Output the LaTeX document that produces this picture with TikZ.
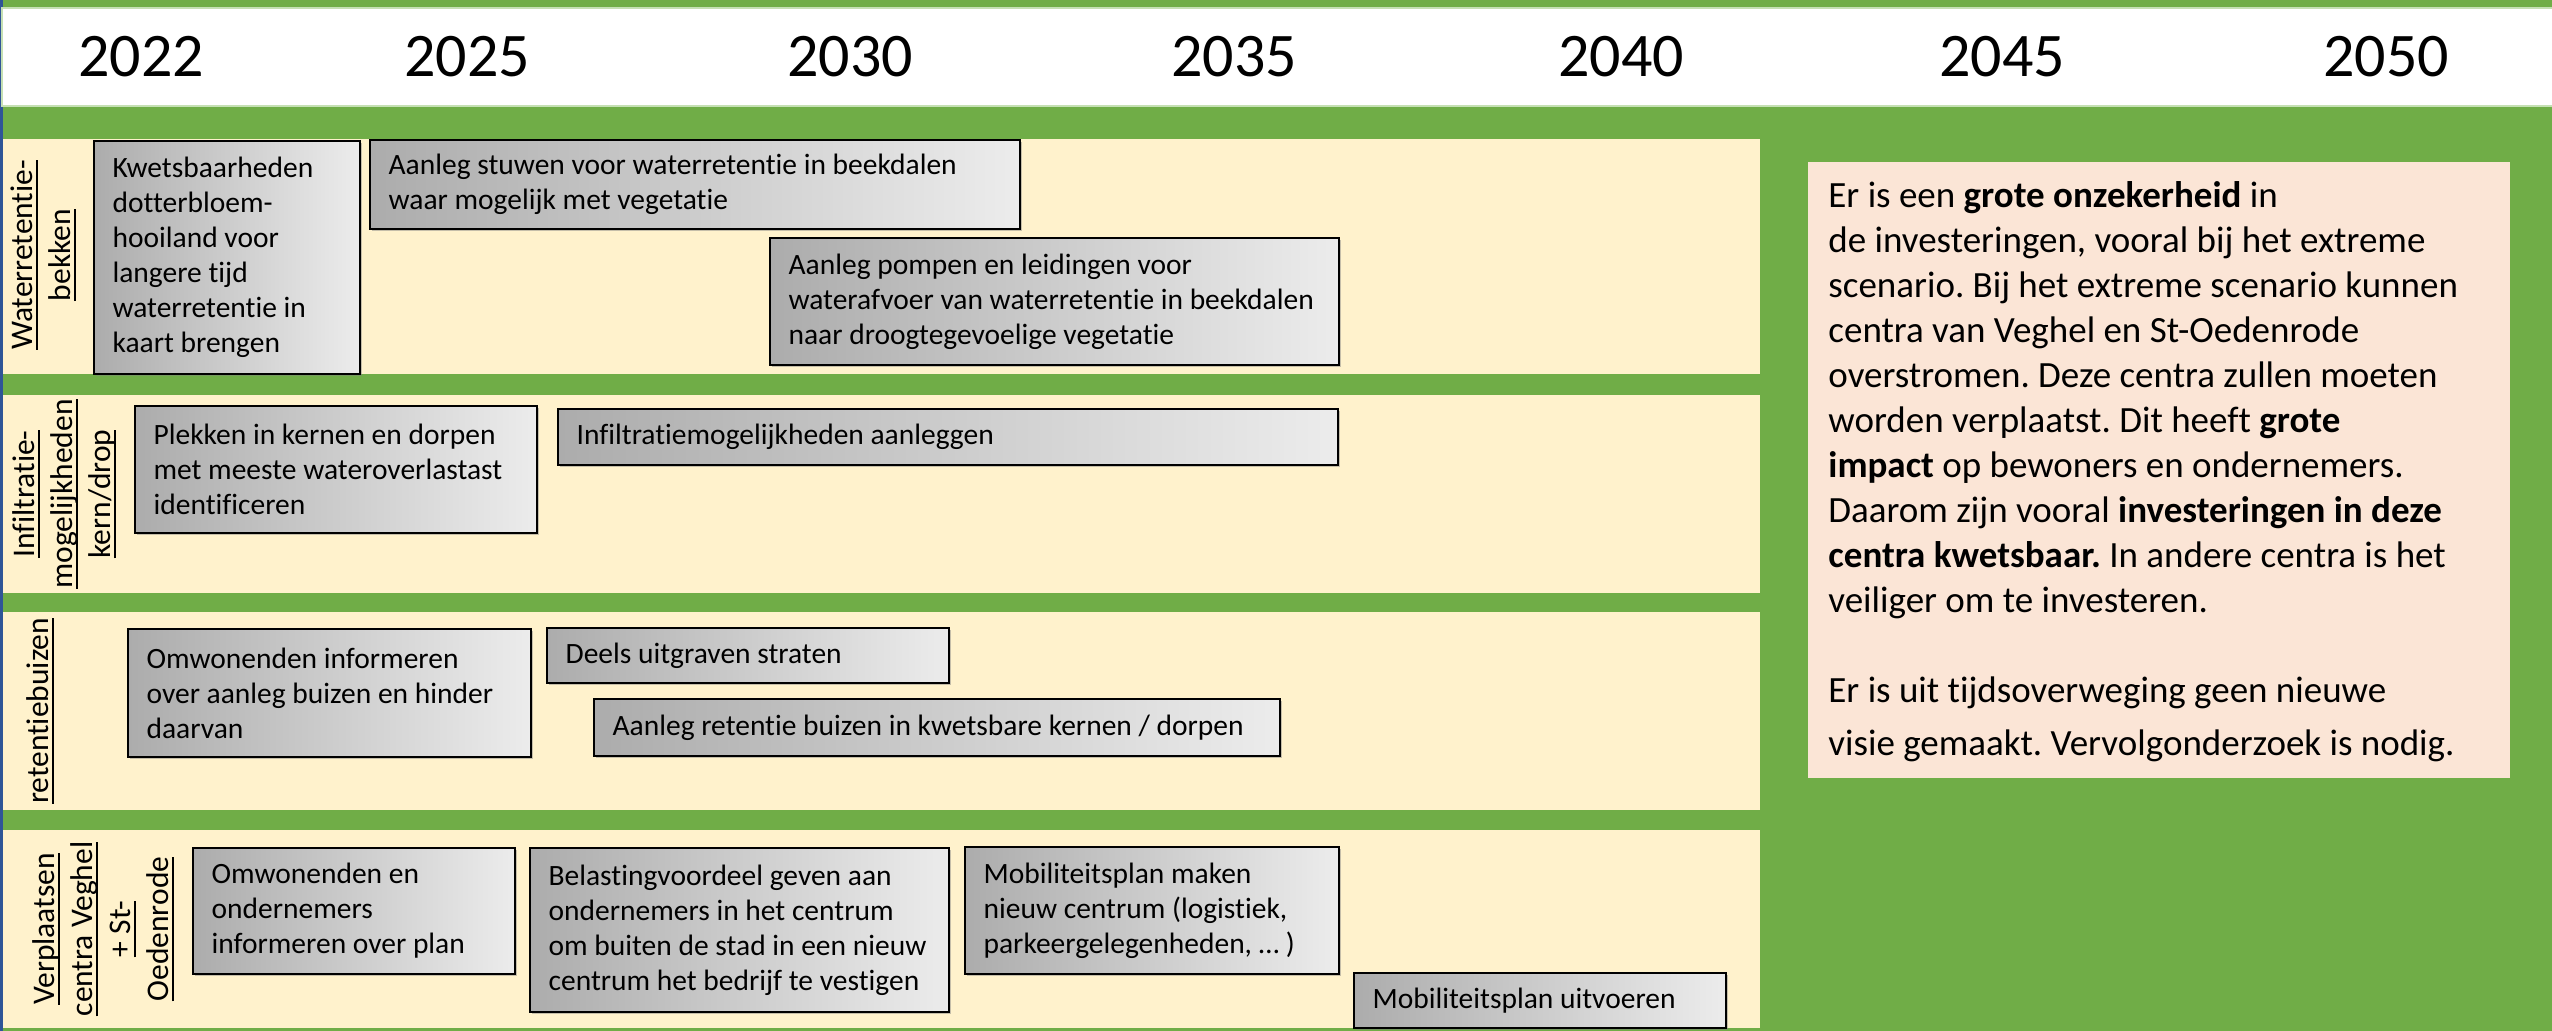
\documentclass[tikz,border=0pt]{standalone}
\usepackage{fontspec}
\setmainfont{Carlito}[Ligatures={NoCommon}]
\usetikzlibrary{shadows}
\frenchspacing
\definecolor{bggreen}{RGB}{112,173,71}
\definecolor{rowyellow}{RGB}{255,242,204}
\definecolor{notebg}{RGB}{251,229,214}
\definecolor{edgeblue}{RGB}{47,85,151}
\definecolor{hdredge}{RGB}{197,224,180}
\definecolor{boxdark}{RGB}{172,172,172}
\definecolor{boxlight}{RGB}{236,236,236}
\tikzset{
  actbox/.style={draw=black, line width=0.8pt, left color=boxdark, right color=boxlight, inner sep=0pt,
    drop shadow={shadow xshift=0.8pt, shadow yshift=-0.8pt, opacity=0.45}},
  acttext/.style={anchor=west, align=left, inner sep=0pt, font=\fontsize{14.75}{17.5}\selectfont},
  rowlabel/.style={rotate=90, align=center, inner sep=0pt, font=\fontsize{15.75}{19}\selectfont},
  yearlabel/.style={font=\fontsize{31}{36}\selectfont, inner sep=0pt},
  rowband/.style={fill=rowyellow},
}
\newcommand\lbline[1]{\setbox0\hbox{#1}\rlap{\rule[-2.7pt]{\wd0}{0.9pt}}\box0}
\newcommand\mkbox[6]{%
  \pgfmathsetmacro\bxw{(#4-#2)/2}%
  \pgfmathsetmacro\bxh{(#5-#3)/2}%
  \node[actbox, minimum width=\bxw pt, minimum height=\bxh pt] (#1) at ({(#2+#4)/2},{(#3+#5)/2}) {};
  \node[acttext] (#1t) at ([xshift=9.5pt]#1.west) {#6};}
\begin{document}
\begin{tikzpicture}[x=0.5pt,y=-0.5pt]
\useasboundingbox (0,0) rectangle (2552,1031);
\fill[bggreen] (0,0) rectangle (2552,1031);
\fill[edgeblue] (0,0) rectangle (2.5,1031);
\filldraw[fill=white, draw=hdredge, line width=1pt] (2,8) rectangle (2560,106);
% years
\node[yearlabel] (y2022) at (141,57) {2022};
\node[yearlabel] (y2025) at (467,57) {2025};
\node[yearlabel] (y2030) at (850,57) {2030};
\node[yearlabel] (y2035) at (1234,57) {2035};
\node[yearlabel] (y2040) at (1621,57) {2040};
\node[yearlabel] (y2045) at (2002,57) {2045};
\node[yearlabel] (y2050) at (2386,57) {2050};
% row bands
\fill[rowband] (3,139) rectangle (1760,374);
\fill[rowband] (3,395) rectangle (1760,593);
\fill[rowband] (3,612) rectangle (1760,810);
\fill[rowband] (3,830) rectangle (1760,1028);
% row labels
\node[rowlabel] (L1) at (43,255) {\lbline{Waterretentie-}\\\lbline{bekken}};
\node[rowlabel] (L2) at (64,494) {\lbline{Infiltratie-}\\\lbline{mogelijkheden}\\\lbline{kern/drop}};
\node[rowlabel] (L3) at (40,711) {\lbline{retentiebuizen}};
\node[rowlabel] (L4) at (103,929) {\lbline{Verplaatsen}\\\lbline{centra Veghel}\\\lbline{+ St-}\\\lbline{Oedenrode}};
% row 1
\mkbox{A1}{94}{141}{360}{374}{Kwetsbaarheden\\dotterbloem-\\hooiland voor\\langere tijd\\waterretentie in\\kaart brengen}
\mkbox{A2}{370}{140}{1020}{229}{Aanleg stuwen voor waterretentie in beekdalen\\waar mogelijk met vegetatie}
\mkbox{A3}{770}{238}{1339}{365}{Aanleg pompen en leidingen voor\\waterafvoer van waterretentie in beekdalen\\naar droogtegevoelige vegetatie}
% row 2
\mkbox{B1}{135}{406}{537}{533}{Plekken in kernen en dorpen\\met meeste wateroverlastast\\identificeren}
\mkbox{B2}{558}{409}{1338}{465}{Infiltratiemogelijkheden aanleggen}
% row 3
\mkbox{C1}{128}{629}{531}{757}{Omwonenden informeren\\over aanleg buizen en hinder\\daarvan}
\mkbox{C2}{547}{628}{949}{683}{Deels uitgraven straten}
\mkbox{C3}{594}{699}{1280}{756}{Aanleg retentie buizen in kwetsbare kernen / dorpen}
% row 4
\mkbox{D1}{193}{848}{515}{974}{Omwonenden en\\ondernemers\\informeren over plan}
\mkbox{D2}{530}{848}{949}{1012}{Belastingvoordeel geven aan\\ondernemers in het centrum\\om buiten de stad in een nieuw\\centrum het bedrijf te vestigen}
\mkbox{D3}{965}{847}{1339}{974}{Mobiliteitsplan maken\\nieuw centrum (logistiek,\\parkeergelegenheden, … )}
\mkbox{D4}{1354}{973}{1726}{1028}{Mobiliteitsplan uitvoeren}
% note
\node[fill=notebg, minimum width=351pt, minimum height=308pt, anchor=north west, inner sep=0pt] (note) at (1808,162) {};
\node[anchor=north west, align=left, inner sep=0pt, font=\fontsize{18.5}{22.5}\selectfont] (notetext) at (1828,181) {Er is een \textbf{grote onzekerheid} in\\
de investeringen, vooral bij het extreme\\
scenario. Bij het extreme scenario kunnen\\
centra van Veghel en St-Oedenrode\\
overstromen. Deze centra zullen moeten\\
worden verplaatst. Dit heeft \textbf{grote}\\
\textbf{impact} op bewoners en ondernemers.\\
Daarom zijn vooral \textbf{investeringen in deze}\\
\textbf{centra kwetsbaar.} In andere centra is het\\
veiliger om te investeren.\\[22.5pt]
Er is uit tijdsoverweging geen nieuwe\\[4pt]
visie gemaakt. Vervolgonderzoek is nodig.};
\end{tikzpicture}
\end{document}
